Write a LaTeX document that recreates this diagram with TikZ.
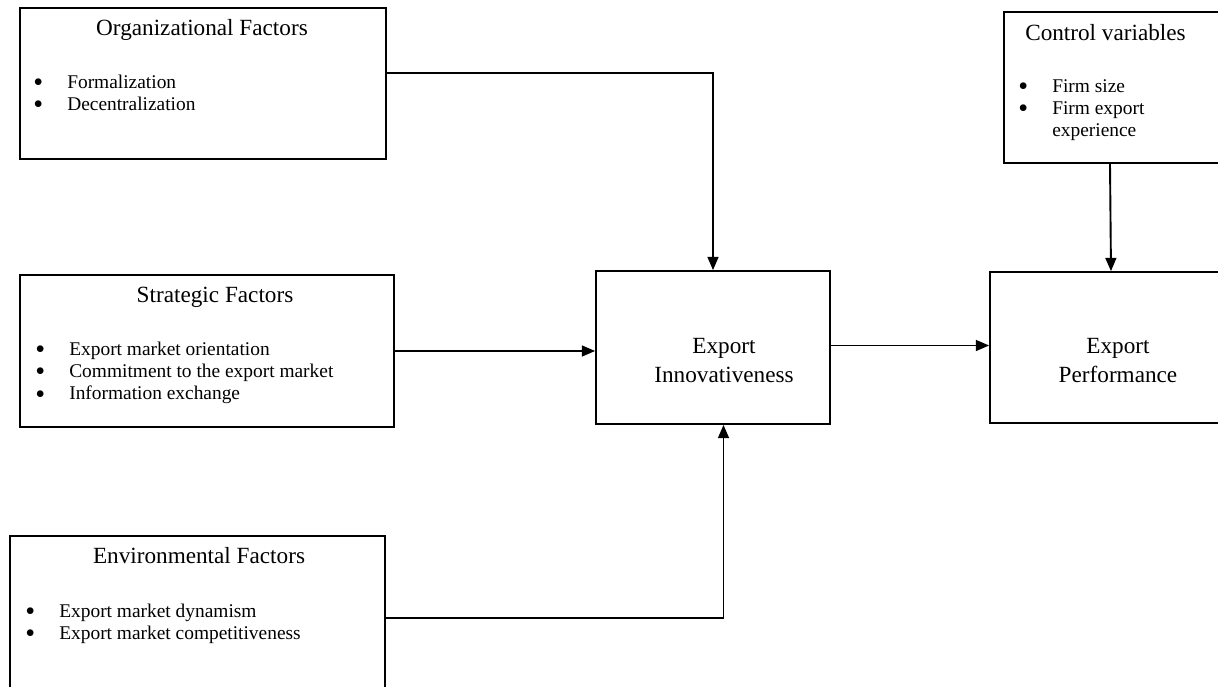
\documentclass[tikz,border=0pt]{standalone}
\usepackage{fontspec}
\setmainfont{Liberation Serif}
\usetikzlibrary{arrows.meta}

\newcommand{\bul}{\raisebox{-2.6pt}[0pt][0pt]{\fontsize{20}{0}\selectfont\textbullet}}

\tikzset{
  box/.style={draw, line width=1.2pt, inner sep=0pt},
  head/.style={font=\fontsize{16.5}{20}\selectfont, inner sep=0pt, anchor=base},
  items/.style={font=\fontsize{13.8}{15.8}\selectfont, inner sep=0pt, anchor=base west},
  big/.style={font=\fontsize{16.5}{20.6}\selectfont, align=center, inner sep=0pt, anchor=base},
  arr/.style={line width=1.35pt, -{Triangle[length=0.33cm,width=0.27cm]}}
}

\begin{document}
\begin{tikzpicture}[x=0.025cm, y=-0.025cm]
    \useasboundingbox (0,0) rectangle (1218,686);
    \clip (0,0) rectangle (1218,686);
    % boxes
    \node[box, minimum width=9.15cm, minimum height=3.775cm] (org) at (203,83.5) {};
    \node[box, minimum width=9.35cm, minimum height=3.8cm] (strat) at (207,351) {};
    \node[box, minimum width=9.375cm, minimum height=4.1cm] (env) at (197.5,618) {};
    \node[box, minimum width=5.85cm, minimum height=3.825cm] (innov) at (713,347.5) {};
    \node[box, minimum width=6.25cm, minimum height=3.775cm] (perf) at (1115,347.5) {};
    \node[box, minimum width=5.9cm, minimum height=3.775cm] (ctrl) at (1122,87.5) {};
    % texts
    \node[head] at (202,35) {Organizational Factors};
    \node[items] at (33,88) {\begin{tabular}[t]{@{}p{0.85cm}@{}l@{}}
        \bul & Formalization\\
        \bul & Decentralization
      \end{tabular}};
    \node[head] at (215,302) {Strategic Factors};
    \node[items] at (35,355) {\begin{tabular}[t]{@{}p{0.85cm}@{}l@{}}
        \bul & Export market orientation\\
        \bul & Commitment to the export market\\
        \bul & Information exchange
      \end{tabular}};
    \node[head] at (199,563) {Environmental Factors};
    \node[items] at (25,617) {\begin{tabular}[t]{@{}p{0.85cm}@{}l@{}}
        \bul & Export market dynamism\\
        \bul & Export market competitiveness
      \end{tabular}};
    \node[head, anchor=base west] at (1025,40) {Control variables};
    \node[items] at (1018,92) {\begin{tabular}[t]{@{}p{0.85cm}@{}l@{}}
        \bul & Firm size\\
        \bul & Firm export\\
             & experience
      \end{tabular}};
    \node[big] at (724,382) {Export\\Innovativeness};
    \node[big] at (1118,382) {Export\\Performance};
    % arrows
    \draw[arr] ([yshift=0.2625cm]org.east) -| (innov.north);
    \draw[arr] (strat.east) -- (strat.east -| innov.west);
    \draw[arr] (env.east) -| ([xshift=0.2625cm]innov.south);
    \draw[arr] ([yshift=0.05cm]innov.east) -- ([yshift=0.05cm]perf.west);
    \draw[arr] ([xshift=-0.3cm]ctrl.south) -- ([xshift=-0.1cm]perf.north);
\end{tikzpicture}
\end{document}
